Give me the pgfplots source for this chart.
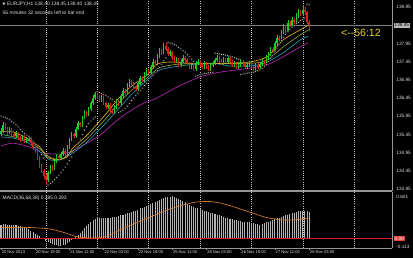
\documentclass[border=0pt]{standalone}
\usepackage{pgfplots}
\pgfplotsset{compat=1.18}
\usepackage{pgfplotstable}
\usepackage{fontspec}
\setmainfont{Liberation Sans}
\newfontfamily\dejavu{DejaVu Sans}
\definecolor{bullc}{RGB}{30,205,40}
\definecolor{bearc}{RGB}{225,30,30}
\definecolor{yel}{RGB}{225,185,40}
\definecolor{oliv}{RGB}{150,170,60}
\definecolor{cyn}{RGB}{30,160,190}
\definecolor{mag}{RGB}{190,40,190}
\definecolor{histc}{RGB}{180,180,180}
\definecolor{sig}{RGB}{230,130,40}
\definecolor{labc}{RGB}{225,225,225}
\definecolor{gridc}{RGB}{200,200,200}
\definecolor{framec}{RGB}{150,150,150}
\definecolor{cdown}{RGB}{230,210,40}

\pgfplotstableread{
i o h l c
0 135.45 135.62 135.40 135.55
1 135.55 135.78 135.50 135.70
4 135.50 135.64 135.46 135.58
7 135.40 135.55 135.36 135.48
10 135.30 135.44 135.26 135.38
12 135.25 135.36 135.20 135.30
13 135.30 135.40 135.26 135.33
22 134.20 134.45 134.15 134.40
23 134.40 134.62 134.36 134.55
25 134.50 134.76 134.46 134.70
26 134.70 134.92 134.66 134.85
28 134.80 134.96 134.75 134.90
29 134.90 135.08 134.86 135.00
31 134.92 135.16 134.88 135.10
32 135.10 135.36 135.06 135.30
33 135.30 135.52 135.26 135.45
35 135.40 135.66 135.35 135.60
36 135.60 135.82 135.56 135.75
38 135.70 135.96 135.66 135.90
39 135.90 136.12 135.86 136.05
41 136.00 136.20 135.96 136.15
42 136.15 136.36 136.10 136.30
43 136.30 136.52 136.26 136.45
44 136.45 136.62 136.40 136.55
47 136.40 136.52 136.35 136.45
50 136.20 136.32 136.14 136.25
53 136.05 136.26 136.00 136.20
54 136.20 136.42 136.15 136.35
56 136.30 136.56 136.26 136.50
57 136.50 136.72 136.45 136.65
59 136.60 136.86 136.56 136.80
60 136.80 136.98 136.75 136.90
64 136.70 136.90 136.65 136.85
65 136.85 137.06 136.80 137.00
67 136.95 137.16 136.90 137.10
68 137.10 137.28 137.05 137.20
70 137.15 137.36 137.10 137.30
71 137.30 137.52 137.25 137.45
73 137.40 137.66 137.35 137.60
74 137.60 137.82 137.56 137.75
76 137.70 137.97 137.65 137.88
79 137.65 137.78 137.60 137.70
82 137.45 137.58 137.40 137.50
84 137.35 137.52 137.30 137.45
85 137.45 137.62 137.40 137.55
89 137.30 137.42 137.25 137.35
91 137.25 137.46 137.20 137.40
92 137.40 137.52 137.35 137.45
95 137.30 137.46 137.25 137.40
98 137.25 137.42 137.20 137.35
99 137.35 137.46 137.30 137.40
100 137.40 137.56 137.36 137.50
101 137.50 137.62 137.45 137.55
104 137.40 137.58 137.35 137.50
106 137.45 137.60 137.40 137.55
109 137.35 137.48 137.30 137.40
111 137.30 137.42 137.25 137.35
112 137.35 137.52 137.30 137.45
115 137.30 137.42 137.24 137.35
116 137.35 137.47 137.30 137.40
119 137.25 137.42 137.20 137.35
121 137.30 137.45 137.25 137.38
122 137.38 137.52 137.33 137.45
124 137.40 137.62 137.36 137.55
125 137.55 137.72 137.50 137.65
126 137.65 137.86 137.60 137.80
128 137.75 138.02 137.70 137.95
129 137.95 138.18 137.90 138.10
131 138.05 138.32 138.00 138.25
132 138.25 138.48 138.20 138.40
134 138.30 138.58 138.25 138.50
136 138.45 138.68 138.40 138.60
138 138.55 138.78 138.50 138.70
139 138.70 138.90 138.65 138.80
141 138.75 139.00 138.70 138.88
}\bull

\pgfplotstableread{
i o h l c
2 135.70 135.75 135.56 135.62
3 135.62 135.66 135.44 135.50
5 135.58 135.62 135.40 135.45
6 135.45 135.50 135.34 135.40
8 135.48 135.52 135.30 135.35
9 135.35 135.40 135.25 135.30
11 135.38 135.42 135.20 135.25
14 135.33 135.37 135.16 135.22
15 135.22 135.26 135.02 135.08
16 135.08 135.12 134.94 135.00
17 135.00 135.05 134.74 134.80
18 134.80 134.85 134.54 134.60
19 134.60 134.65 134.38 134.45
20 134.45 134.50 134.22 134.30
21 134.30 134.35 134.05 134.20
24 134.55 134.60 134.44 134.50
27 134.85 134.90 134.74 134.80
30 135.00 135.05 134.86 134.92
34 135.45 135.50 135.34 135.40
37 135.75 135.80 135.64 135.70
40 136.05 136.10 135.94 136.00
45 136.55 136.60 136.42 136.48
46 136.48 136.52 136.34 136.40
48 136.45 136.50 136.25 136.30
49 136.30 136.35 136.14 136.20
51 136.25 136.30 136.05 136.10
52 136.10 136.15 136.00 136.05
55 136.35 136.40 136.24 136.30
58 136.65 136.70 136.54 136.60
61 136.90 136.95 136.80 136.85
62 136.85 136.90 136.70 136.75
63 136.75 136.80 136.64 136.70
66 137.00 137.05 136.90 136.95
69 137.20 137.25 137.10 137.15
72 137.45 137.50 137.34 137.40
75 137.75 137.80 137.64 137.70
77 137.88 137.95 137.75 137.80
78 137.80 137.85 137.60 137.65
80 137.70 137.75 137.50 137.55
81 137.55 137.60 137.40 137.45
83 137.50 137.55 137.30 137.35
86 137.55 137.60 137.44 137.50
87 137.50 137.55 137.35 137.40
88 137.40 137.45 137.24 137.30
90 137.35 137.40 137.20 137.25
93 137.45 137.50 137.30 137.35
94 137.35 137.40 137.24 137.30
96 137.40 137.45 137.25 137.30
97 137.30 137.35 137.18 137.25
102 137.55 137.60 137.42 137.48
103 137.48 137.53 137.35 137.40
105 137.50 137.56 137.40 137.45
107 137.55 137.60 137.40 137.45
108 137.45 137.50 137.30 137.35
110 137.40 137.45 137.25 137.30
113 137.45 137.50 137.34 137.40
114 137.40 137.45 137.25 137.30
117 137.40 137.45 137.25 137.30
118 137.30 137.35 137.18 137.25
120 137.35 137.40 137.24 137.30
123 137.45 137.50 137.34 137.40
127 137.80 137.85 137.68 137.75
130 138.10 138.16 137.98 138.05
133 138.40 138.45 138.24 138.30
135 138.50 138.56 138.40 138.45
137 138.60 138.66 138.48 138.55
140 138.80 138.86 138.70 138.75
142 138.88 138.96 138.74 138.80
143 138.80 138.85 138.48 138.55
144 138.55 138.60 138.30 138.45
}\bear

\pgfplotstableread{
i p
0 135.95
1 135.93
2 135.91
3 135.88
4 135.85
5 135.81
6 135.77
7 135.72
8 135.66
9 135.59
10 135.52
11 135.47
12 135.43
13 135.40
14 135.34
15 135.26
16 135.17
17 135.08
18 134.99
19 134.90
20 134.80
22 134.06
23 134.10
24 134.15
25 134.21
26 134.27
27 134.33
28 134.40
29 134.47
30 134.55
31 134.64
32 134.73
33 134.83
34 134.95
35 135.08
36 135.20
37 135.32
38 135.45
39 135.57
40 135.67
41 135.75
42 135.82
43 135.88
44 135.93
45 136.62
46 136.60
47 136.58
48 136.55
49 136.52
50 136.48
51 136.44
52 136.40
53 136.35
55 136.05
56 136.08
57 136.12
58 136.17
59 136.23
60 136.30
61 136.38
62 136.45
63 136.52
64 136.58
65 136.65
66 136.72
67 136.79
68 136.86
69 136.93
70 137.00
71 137.07
72 137.14
73 137.21
74 137.29
75 137.38
76 137.47
77 137.55
78 137.97
79 137.96
80 137.94
81 137.91
82 137.88
83 137.84
84 137.80
85 137.75
86 137.70
87 137.64
88 137.58
89 137.52
90 137.46
91 137.05
92 137.07
93 137.09
94 137.11
95 137.12
96 137.13
97 137.14
98 137.15
99 137.16
100 137.68
101 137.67
102 137.66
103 137.65
104 137.64
105 137.63
106 137.62
107 137.60
108 137.58
109 137.56
110 137.54
111 137.52
112 137.10
113 137.11
114 137.12
115 137.13
116 137.14
117 137.15
118 137.16
119 137.18
120 137.20
121 137.23
122 137.27
123 137.32
124 137.38
125 137.45
126 137.53
127 137.62
128 137.72
129 137.82
130 137.93
131 138.03
132 138.12
133 138.20
134 138.27
135 138.33
136 138.39
137 138.44
138 138.49
139 138.53
140 138.57
141 138.61
142 138.64
143 139.03
144 139.01
}\sar

\pgfplotstableread{
i v
0 0.20
1 0.21
2 0.21
3 0.20
4 0.20
5 0.20
6 0.19
7 0.19
8 0.18
9 0.18
10 0.17
11 0.16
12 0.15
13 0.13
14 0.11
15 0.09
16 0.07
17 0.05
18 0.03
19 0.01
20 -0.01
21 -0.03
22 -0.05
23 -0.07
24 -0.08
25 -0.09
26 -0.10
27 -0.11
28 -0.11
29 -0.10
30 -0.09
31 -0.07
32 -0.05
33 -0.02
34 0.00
35 0.02
36 0.05
37 0.08
38 0.11
39 0.15
40 0.18
41 0.21
42 0.24
43 0.26
44 0.28
45 0.29
46 0.30
47 0.30
48 0.30
49 0.30
50 0.30
51 0.30
52 0.31
53 0.31
54 0.31
55 0.32
56 0.33
57 0.34
58 0.35
59 0.36
60 0.37
61 0.38
62 0.39
63 0.40
64 0.41
65 0.43
66 0.44
67 0.45
68 0.47
69 0.48
70 0.49
71 0.51
72 0.52
73 0.54
74 0.55
75 0.57
76 0.58
77 0.59
78 0.59
79 0.60
80 0.601
81 0.59
82 0.58
83 0.57
84 0.55
85 0.54
86 0.52
87 0.50
88 0.48
89 0.46
90 0.45
91 0.44
92 0.43
93 0.42
94 0.41
95 0.40
96 0.39
97 0.38
98 0.37
99 0.36
100 0.35
101 0.34
102 0.33
103 0.32
104 0.31
105 0.30
106 0.29
107 0.28
108 0.28
109 0.27
110 0.26
111 0.25
112 0.25
113 0.24
114 0.24
115 0.23
116 0.23
117 0.22
118 0.22
119 0.21
120 0.21
121 0.20
122 0.21
123 0.22
124 0.23
125 0.24
126 0.25
127 0.27
128 0.28
129 0.29
130 0.30
131 0.31
132 0.32
133 0.33
134 0.34
135 0.35
136 0.36
137 0.37
138 0.38
139 0.39
140 0.39
141 0.39
142 0.40
143 0.39
144 0.385
}\macd

\begin{document}
\begin{tikzpicture}[x=1pt,y=1pt]
\useasboundingbox (0,0) rectangle (413,-258);
\fill[black] (0,0) rectangle (413,-258);

% ---------- price panel ----------
\begin{axis}[
  at={(0pt,0pt)}, anchor=north west, scale only axis,
  width=392pt, height=191pt,
  xmin=-0.47, xmax=182.7, ymin=133.895, ymax=139.142,
  axis x line*=bottom, axis y line*=right,
  x axis line style={draw=framec, line width=1.3pt, -},
  y axis line style={draw=framec, line width=0.6pt, -},
  xtick=\empty,
  extra x ticks={21,45,69,93,117,141,165},
  extra x tick labels={},
  extra x tick style={grid=major, major tick length=0pt},
  major grid style={draw=gridc, line width=0.5pt, dash pattern=on 0.6pt off 1.6pt},
  ytick={133.95,134.45,134.95,135.45,135.95,136.45,136.95,137.45,137.95,138.95},
  yticklabels={133.95,134.45,134.95,135.45,135.95,136.45,136.95,137.45,137.95,138.95},
  tick align=outside, major tick length=1.5pt,
  tick style={draw=framec, line width=0.5pt},
  yticklabel style={font=\fontsize{4.7}{5}\selectfont, text=labc, anchor=west, xshift=-0.6pt},
  /pgf/number format/assume math mode=true,
  candle/.style={quiver={u=0, v=\thisrow{h}-\thisrow{l}, every arrow/.append style={-}}, mark=none, forget plot},
  body/.style={quiver={u=0, v=\thisrow{c}-\thisrow{o}, every arrow/.append style={-}}, mark=none, forget plot},
]
% current price line
\addplot[draw=gray, line width=0.5pt] coordinates {(-0.47,138.45) (182.7,138.45)};
% moving averages
\addplot[draw=mag, line width=0.6pt, smooth, tension=0.4] coordinates {
(0,135.13) (5.6,135.21) (13.6,135.10) (19.6,134.94) (27.6,134.91) (33.2,134.99)
(40.2,135.21) (46.3,135.43) (55.6,135.90) (65,136.26) (72.9,136.45) (82.2,136.75)
(93,137.03) (102.3,137.16) (116.4,137.27) (124.3,137.36) (131.8,137.58) (139.7,137.85) (143.5,137.96)};
\addplot[draw=cyn, line width=0.6pt, smooth, tension=0.4] coordinates {
(0,135.38) (5.6,135.35) (12.1,135.24) (18.2,134.97) (22.9,134.75) (27.6,134.75) (33.6,134.94)
(40.2,135.24) (48.6,135.74) (55.6,136.20) (61.7,136.59) (68.2,136.94) (74.3,137.22)
(83.6,137.33) (97.7,137.41) (107,137.33) (116.4,137.33) (123.4,137.41) (131.8,137.69)
(139.7,138.04) (143.5,138.15)};
\addplot[draw=oliv, line width=0.6pt, smooth, tension=0.4] coordinates {
(0,135.45) (12.1,135.30) (18.2,135.05) (23,134.82) (28,134.76) (33.6,135.00) (40.2,135.33)
(48.6,135.86) (55.6,136.35) (61.7,136.70) (68.2,137.00) (74,137.28) (83,137.38) (98,137.40)
(116,137.40) (124,137.48) (131.8,137.85) (139.7,138.18) (144,138.33)};
\addplot[draw=yel, line width=0.6pt, smooth, tension=0.4] coordinates {
(0,135.52) (5.6,135.52) (12.1,135.35) (18.2,135.10) (21.5,134.83) (26.2,134.75) (30.8,134.83)
(33.6,135.08) (40.2,135.43) (48.6,135.98) (55.6,136.48) (61.7,136.81) (68.2,137.08)
(72.9,137.38) (79,137.44) (86,137.41) (93,137.38) (107,137.41) (116.4,137.44)
(124.3,137.58) (131.8,138.04) (139.7,138.32) (144,138.46)};
% candles: wicks
\addplot[candle, draw=bullc, line width=0.5pt] table[x=i, y=l] {\bull};
\addplot[candle, draw=bearc, line width=0.5pt] table[x=i, y=l] {\bear};
% candles: bodies
\addplot[body, draw=bullc, line width=1.45pt] table[x=i, y=o] {\bull};
\addplot[body, draw=bearc, line width=1.45pt] table[x=i, y=o] {\bear};
% parabolic SAR
\addplot[only marks, mark=*, mark size=1.05pt, mark options={draw=none, fill=white}] table[x=i, y=p] {\sar};
\end{axis}

% ---------- MACD panel ----------
\begin{axis}[
  at={(0pt,-192pt)}, anchor=north west, scale only axis,
  width=392pt, height=56pt,
  xmin=-0.47, xmax=182.7, ymin=-0.136, ymax=0.665,
  axis x line*=bottom, axis y line*=right,
  x axis line style={draw=framec, line width=0.8pt, -},
  y axis line style={draw=framec, line width=0.6pt, -},
  xtick={0,16,32,48,64,80,96,112,128,144},
  xticklabels={20 Nov 2013,20 Nov 19:00,21 Nov 11:00,22 Nov 03:00,22 Nov 19:00,25 Nov 11:00,26 Nov 03:00,26 Nov 19:00,27 Nov 11:00,28 Nov 03:00},
  xticklabel style={font=\fontsize{4.1}{4.5}\selectfont, text=labc, anchor=north west, inner sep=0.6pt, yshift=-0.3pt},
  extra x ticks={21,45,69,93,117,141,165},
  extra x tick labels={},
  extra x tick style={grid=major, major tick length=0pt},
  major grid style={draw=gridc, line width=0.5pt, dash pattern=on 0.6pt off 1.6pt},
  ytick={-0.113,0.601},
  yticklabels={-0.113,0.601},
  tick align=outside, major tick length=1.5pt,
  tick style={draw=framec, line width=0.5pt},
  yticklabel style={font=\fontsize{4.7}{5}\selectfont, text=labc, anchor=west, xshift=-0.6pt},
  /pgf/number format/assume math mode=true,
]
\addplot[ycomb, draw=histc, line width=1.05pt] table[x=i, y=v] {\macd};
\addplot[draw=bearc, line width=0.8pt] coordinates {(-0.47,0) (182.7,0)};
\addplot[draw=sig, line width=0.6pt, smooth, tension=0.4] coordinates {
(0,0.155) (10,0.16) (18,0.15) (24,0.13) (30,0.08) (35,0.03) (40,0.01) (45,0.01) (50,0.04)
(56,0.13) (63,0.22) (70,0.31) (77,0.40) (84,0.47) (91,0.52) (97,0.53) (102,0.51) (108,0.46)
(116,0.38) (124,0.30) (132,0.265) (138,0.27) (144,0.293)};
\end{axis}

% ---------- texts ----------
\node[anchor=west, inner sep=0pt, text=labc] at (2.5,-4.5) {\fontsize{4.9}{5.5}\selectfont{\dejavu\fontsize{3.6}{4}\selectfont ▼}\hspace{1.6pt}EURJPY,H1 138.40 138.45 138.40 138.45};
\node[anchor=west, inner sep=0pt, text=labc] at (2.5,-12.5) {\fontsize{4.9}{5.5}\selectfont 56 minutes 32 seconds left to bar end};
\node[anchor=west, inner sep=0pt, text=labc] at (2.5,-198) {\fontsize{4.9}{5.5}\selectfont MACD(36,68,38) 0.385 0.293};
\node[anchor=west, inner sep=0pt, text=cdown] at (341,-32.5) {\fontsize{10.5}{11}\selectfont <-{}-56:12};
\node[anchor=west, fill=gray!55!white, text=black, inner xsep=1pt, inner ysep=0.8pt] at (393.5,-25.2) {\fontsize{4.7}{5}\selectfont 138.45};
\node[anchor=west, fill=bearc!85!white, text=white, inner xsep=1pt, inner ysep=0.6pt] at (393.5,-238.5) {\fontsize{4.7}{5}\selectfont 0.00};
\end{tikzpicture}
\end{document}
